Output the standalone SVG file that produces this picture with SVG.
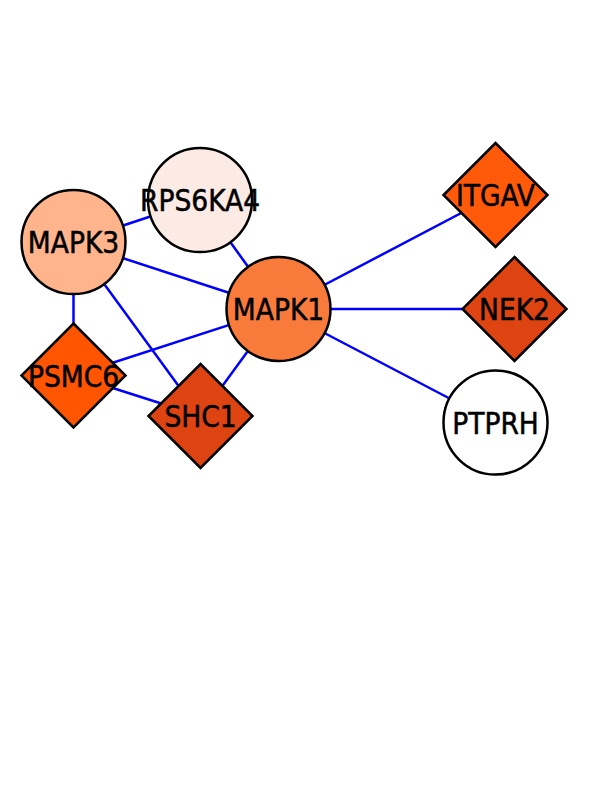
<svg xmlns="http://www.w3.org/2000/svg" width="612" height="792" viewBox="0 0 612 792">
<style>
.e{stroke:#0000FF;stroke-width:2.5;fill:none}
.n{stroke:#000;stroke-width:2.5}
.t{font-family:"DejaVu Sans Condensed","DejaVu Sans",sans-serif;font-stretch:condensed;font-size:29.5px;text-anchor:middle;fill:#000;stroke:#000;stroke-width:0.5}
</style>
<rect width="612" height="792" fill="#fff"/>
<g id="edges">
<line class="e" x1="73.5" y1="242" x2="200" y2="200"/>
<line class="e" x1="73.5" y1="242" x2="278.5" y2="309"/>
<line class="e" x1="73.5" y1="242" x2="73.5" y2="375.5"/>
<line class="e" x1="73.5" y1="242" x2="200.5" y2="416"/>
<line class="e" x1="200" y1="200" x2="278.5" y2="309"/>
<line class="e" x1="278.5" y1="309" x2="73.5" y2="375.5"/>
<line class="e" x1="278.5" y1="309" x2="200.5" y2="416"/>
<line class="e" x1="73.5" y1="375.5" x2="200.5" y2="416"/>
<line class="e" x1="278.5" y1="309" x2="495.5" y2="195"/>
<line class="e" x1="278.5" y1="309" x2="514.5" y2="309"/>
<line class="e" x1="278.5" y1="309" x2="495.5" y2="422.5"/>
</g>
<g id="MAPK3"><circle class="n" cx="73.5" cy="242" r="52" fill="#FFB48C"/><text class="t" x="73.5" y="253">MAPK3</text></g>
<g id="RPS6KA4"><circle class="n" cx="200" cy="200" r="52" fill="#FCEAE4"/><text class="t" x="200" y="211">RPS6KA4</text></g>
<g id="MAPK1"><circle class="n" cx="278.5" cy="309" r="52" fill="#F97B3C"/><text class="t" x="278.5" y="320">MAPK1</text></g>
<g id="PSMC6"><polygon class="n" points="73.5,323.5 125.5,375.5 73.5,427.5 21.5,375.5" fill="#FF5500"/><text class="t" x="73.5" y="386.5">PSMC6</text></g>
<g id="SHC1"><polygon class="n" points="200.5,364 252.5,416 200.5,468 148.5,416" fill="#DD4411"/><text class="t" x="200.5" y="427">SHC1</text></g>
<g id="ITGAV"><polygon class="n" points="495.5,143 547.5,195 495.5,247 443.5,195" fill="#FF5A0A"/><text class="t" x="495.5" y="206">ITGAV</text></g>
<g id="NEK2"><polygon class="n" points="514.5,257 566.5,309 514.5,361 462.5,309" fill="#DD4411"/><text class="t" x="514.5" y="320">NEK2</text></g>
<g id="PTPRH"><circle class="n" cx="495.5" cy="422.5" r="52" fill="#FFFFFF"/><text class="t" x="495.5" y="433.5">PTPRH</text></g>
</svg>
